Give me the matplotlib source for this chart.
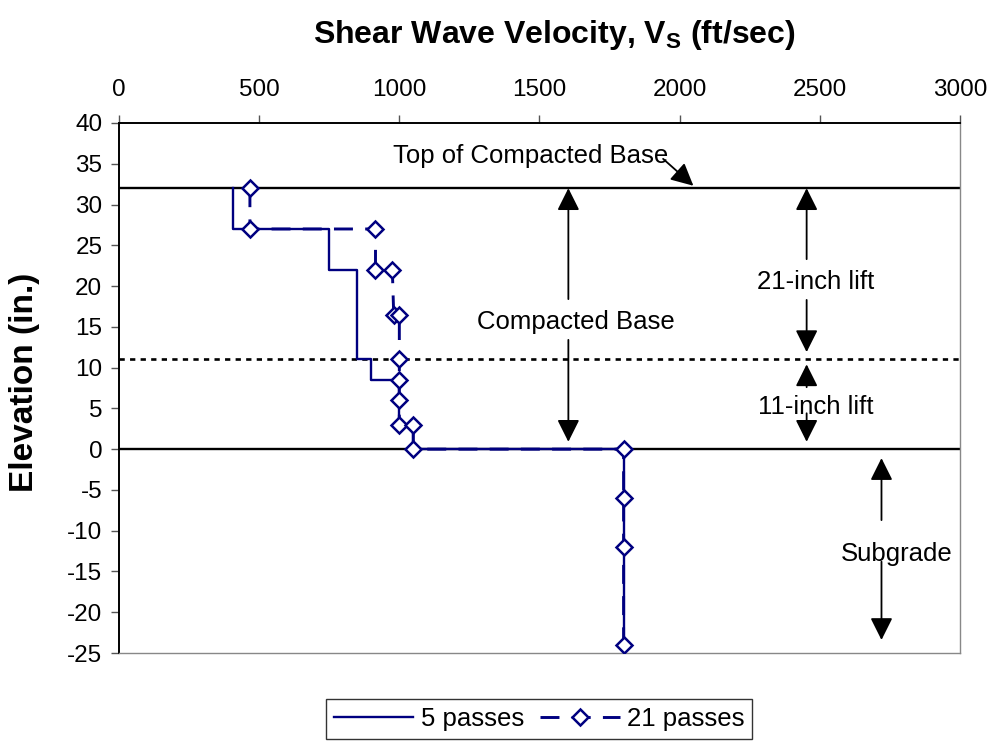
import matplotlib
matplotlib.use("Agg")
import matplotlib.pyplot as plt

plt.rcParams['font.family'] = ['Liberation Sans', 'DejaVu Sans']
plt.rcParams['axes.unicode_minus'] = False

# data
vs_5 = [405, 405, 750, 750, 850, 850, 900, 900, 1000, 1000, 1050, 1050, 1800, 1800]
el_5 = [32, 27, 27, 22, 22, 11, 11, 8.5, 8.5, 3, 3, 0, 0, -24]

vs_21 = [467, 467, 915, 915, 975, 980, 1000, 1000, 1000, 1000, 1000, 1050, 1050,
         1800, 1800, 1800, 1800]
el_21 = [32, 27, 27, 22, 22, 16.5, 16.5, 11, 8.5, 6, 3, 3, 0, 0, -6, -12, -24]

x_ticks = [0, 500, 1000, 1500, 2000, 2500, 3000]
y_ticks = [40, 35, 30, 25, 20, 15, 10, 5, 0, -5, -10, -15, -20, -25]

top_of_base = 32
lift_boundary = 11
subgrade_top = 0

navy = '#000080'
txt_size = 18.5

fig = plt.figure(figsize=(9.95, 7.43), dpi=100)
ax = fig.add_axes([0.1196, 0.1211, 0.8452, 0.7134])

# layer boundaries
ax.axhline(top_of_base, color='black', lw=1.7, zorder=1)
ax.axhline(subgrade_top, color='black', lw=1.7, zorder=1)
ax.axhline(lift_boundary, color='black', lw=1.9, dashes=(2.0, 2.0), zorder=1)

# profiles
ax.plot(vs_5, el_5, color=navy, lw=1.7, label='5 passes', zorder=3)
ax.plot(vs_21, el_21, color=navy, lw=2.1, dashes=(6.5, 4.2), marker='D',
        markersize=8, markerfacecolor='white', markeredgecolor=navy,
        markeredgewidth=1.8, label='21 passes', zorder=4)


def arrow(x0, y0, x1, y1):
    ax.annotate('', xy=(x1, y1), xytext=(x0, y0),
                arrowprops=dict(arrowstyle='-|>', mutation_scale=34, lw=1.3,
                                color='black', shrinkA=0, shrinkB=0),
                zorder=5)


# annotations
ax.text(1470, 36.0, 'Top of Compacted Base', ha='center', va='center', fontsize=txt_size)
arrow(1941, 35.6, 2049, 32.3)

ax.text(1630, 15.6, 'Compacted Base', ha='center', va='center', fontsize=txt_size)
arrow(1603, 18.4, 1603, 32.0)
arrow(1603, 13.4, 1603, 0.9)

ax.text(2484, 20.5, '21-inch lift', ha='center', va='center', fontsize=txt_size)
arrow(2453, 23.3, 2453, 32.0)
arrow(2453, 18.3, 2453, 11.9)

ax.text(2487, 5.2, '11-inch lift', ha='center', va='center', fontsize=txt_size)
arrow(2453, 7.6, 2453, 10.4)
arrow(2453, 4.4, 2453, 0.9)

ax.text(2776, -12.8, 'Subgrade', ha='center', va='center', fontsize=txt_size)
arrow(2720, -8.7, 2720, -1.1)
arrow(2720, -13.8, 2720, -23.4)

# axes
ax.set_xlim(0, 3000)
ax.set_ylim(-25, 40)
ax.set_xticks(x_ticks)
ax.set_yticks(y_ticks)
ax.xaxis.tick_top()
ax.xaxis.set_label_position('top')
ax.tick_params(axis='both', direction='out', length=6, width=1, color='#555555',
               labelsize=17.5, pad=6)
ax.tick_params(axis='x', pad=10)
for side in ['top', 'left']:
    ax.spines[side].set_color('black')
    ax.spines[side].set_linewidth(1.4)
for side in ['bottom', 'right']:
    ax.spines[side].set_color('#888888')
    ax.spines[side].set_linewidth(1.0)

ax.set_xlabel('Shear Wave Velocity, V$_\\mathregular{S}$ (ft/sec)', fontsize=23,
              fontweight='bold')
ax.xaxis.set_label_coords(0.518, 1.151)
ax.set_ylabel('Elevation (in.)', fontsize=24, fontweight='bold')
ax.yaxis.set_label_coords(-0.094, 0.51)

leg = fig.legend(loc='upper center', bbox_to_anchor=(0.542, 0.059), ncol=2,
                 fontsize=txt_size, frameon=True, fancybox=False, edgecolor='black',
                 handlelength=3.1, handletextpad=0.3, columnspacing=0.6,
                 borderpad=0.3, borderaxespad=0)
leg.get_frame().set_linewidth(1.0)

fig.savefig('out.png', dpi=100)
